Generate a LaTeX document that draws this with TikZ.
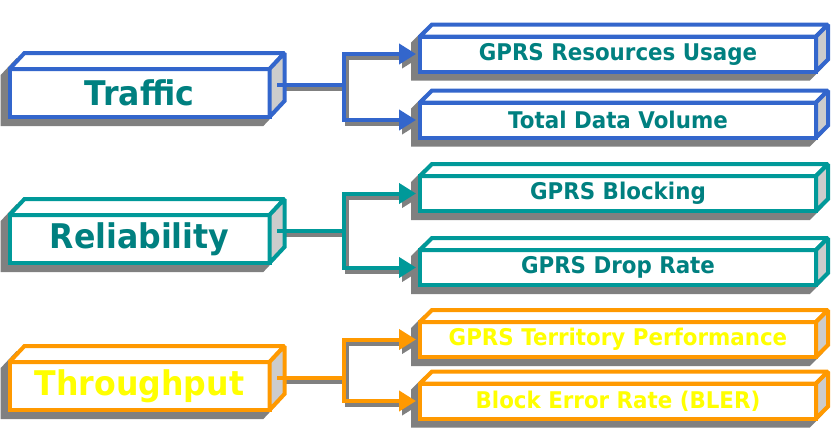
\documentclass[tikz,border=0pt]{standalone}
\usepackage{fontspec}
\newfontfamily\boxfont{DejaVu Sans}[FakeStretch=0.93]
\usetikzlibrary{arrows.meta}
\pgfdeclarelayer{background}
\pgfsetlayers{background,main}

\definecolor{trafficblue}{HTML}{3366CC}
\definecolor{reliateal}{HTML}{009999}
\definecolor{textteal}{HTML}{008080}
\definecolor{thruorange}{HTML}{FF9900}
\definecolor{thruyellow}{HTML}{FFFF00}
\definecolor{sidegrey}{HTML}{CCCCCC}
\definecolor{shadowgrey}{HTML}{808080}

\tikzset{
    mainbox/.style={draw, fill=white, line width=4pt, inner sep=0pt, outer sep=0pt,
        minimum width=260pt, minimum height=48pt,
        font=\boxfont\bfseries\fontsize{34}{40}\selectfont},
    subbox/.style={draw, fill=white, line width=4pt, inner sep=0pt, outer sep=0pt,
        minimum width=396pt, minimum height=35pt,
        font=\boxfont\bfseries\fontsize{23}{28}\selectfont},
    face/.style={line width=4pt, miter limit=2},
    link/.style={line width=4pt},
    link shadow/.style={line width=4pt, draw=shadowgrey,
        transform canvas={shift={(3pt,-4pt)}}},
    tip/.style={-{Triangle[length=17pt,width=20pt]}, shorten >=4pt}
}

% top face, side face and drop shadow of a block
\newcommand{\blockfaces}[4]{%
    \begin{pgfonlayer}{background}
        \filldraw[shadowgrey, face]
            ([shift={(-7,7)}]#1.south west) -- ([shift={(-7,7)}]#1.north west)
            -- ([shift={(#2-7,7-#3)}]#1.north west) -- ([shift={(#2-7,7-#3)}]#1.north east)
            -- ([shift={(#2-7,7-#3)}]#1.south east) -- ([shift={(-7,7)}]#1.south east) -- cycle;
    \end{pgfonlayer}
    \filldraw[fill=white, draw=#4, face]
        (#1.north west) -- ([shift={(#2,-#3)}]#1.north west)
        -- ([shift={(#2,-#3)}]#1.north east) -- (#1.north east) -- cycle;
    \filldraw[fill=sidegrey, draw=#4, face]
        (#1.north east) -- ([shift={(#2,-#3)}]#1.north east)
        -- ([shift={(#2,-#3)}]#1.south east) -- (#1.south east) -- cycle;
}

\begin{document}
\begin{tikzpicture}[x=1pt, y=-1pt]
    \useasboundingbox (0,0) rectangle (835,431);

    % left blocks
    \node[mainbox, draw=trafficblue, text=textteal]  (traffic)     at (139.5,93)  {Traffic};
    \node[mainbox, draw=reliateal, text=textteal]    (reliability) at (139.5,239) {Reliability};
    \node[mainbox, draw=thruorange, text=thruyellow] (throughput)  at (139.5,386) {Throughput};
    \blockfaces{traffic}{15}{16}{trafficblue}
    \blockfaces{reliability}{15}{16}{reliateal}
    \blockfaces{throughput}{15}{16}{thruorange}

    % right blocks
    \node[subbox, draw=trafficblue, text=textteal]  (usage)     at (618,54)    {GPRS Resources Usage};
    \node[subbox, draw=trafficblue, text=textteal]  (volume)    at (618,120)   {Total Data Volume};
    \node[subbox, draw=reliateal, text=textteal]    (blocking)  at (618,193.5) {GPRS Blocking};
    \node[subbox, draw=reliateal, text=textteal]    (droprate)  at (618,267.5) {GPRS Drop Rate};
    \node[subbox, draw=thruorange, text=thruyellow] (territory) at (618,339.5) {GPRS Territory Performance};
    \node[subbox, draw=thruorange, text=thruyellow] (bler)      at (618,401)   {Block Error Rate (BLER)};
    \blockfaces{usage}{12}{12}{trafficblue}
    \blockfaces{volume}{12}{12}{trafficblue}
    \blockfaces{blocking}{12}{12}{reliateal}
    \blockfaces{droprate}{12}{12}{reliateal}
    \blockfaces{territory}{12}{12}{thruorange}
    \blockfaces{bler}{12}{12}{thruorange}

    % connectors
    \coordinate (traffic-side)     at ([shift={(7.5,-8)}]traffic.east);
    \coordinate (reliability-side) at ([shift={(7.5,-8)}]reliability.east);
    \coordinate (throughput-side)  at ([shift={(7.5,-8)}]throughput.east);
    \coordinate (traffic-fork)     at ([xshift=67pt]traffic-side);
    \coordinate (reliability-fork) at ([xshift=67pt]reliability-side);
    \coordinate (throughput-fork)  at ([xshift=67pt]throughput-side);

    \begin{pgfonlayer}{background}
        \draw[link shadow] (traffic-side) -- (traffic-fork);
        \draw[link shadow, tip] (traffic-fork) |- (usage.west);
        \draw[link shadow, tip] (traffic-fork) |- (volume.west);
        \draw[link shadow] (reliability-side) -- (reliability-fork);
        \draw[link shadow, tip] (reliability-fork) |- (blocking.west);
        \draw[link shadow, tip] (reliability-fork) |- (droprate.west);
        \draw[link shadow] (throughput-side) -- (throughput-fork);
        \draw[link shadow, tip] (throughput-fork) |- (territory.west);
        \draw[link shadow, tip] (throughput-fork) |- (bler.west);
    \end{pgfonlayer}

    \draw[link, trafficblue] (traffic-side) -- (traffic-fork);
    \draw[link, trafficblue, tip] (traffic-fork) |- (usage.west);
    \draw[link, trafficblue, tip] (traffic-fork) |- (volume.west);
    \draw[link, reliateal] (reliability-side) -- (reliability-fork);
    \draw[link, reliateal, tip] (reliability-fork) |- (blocking.west);
    \draw[link, reliateal, tip] (reliability-fork) |- (droprate.west);
    \draw[link, thruorange] (throughput-side) -- (throughput-fork);
    \draw[link, thruorange, tip] (throughput-fork) |- (territory.west);
    \draw[link, thruorange, tip] (throughput-fork) |- (bler.west);
\end{tikzpicture}
\end{document}
